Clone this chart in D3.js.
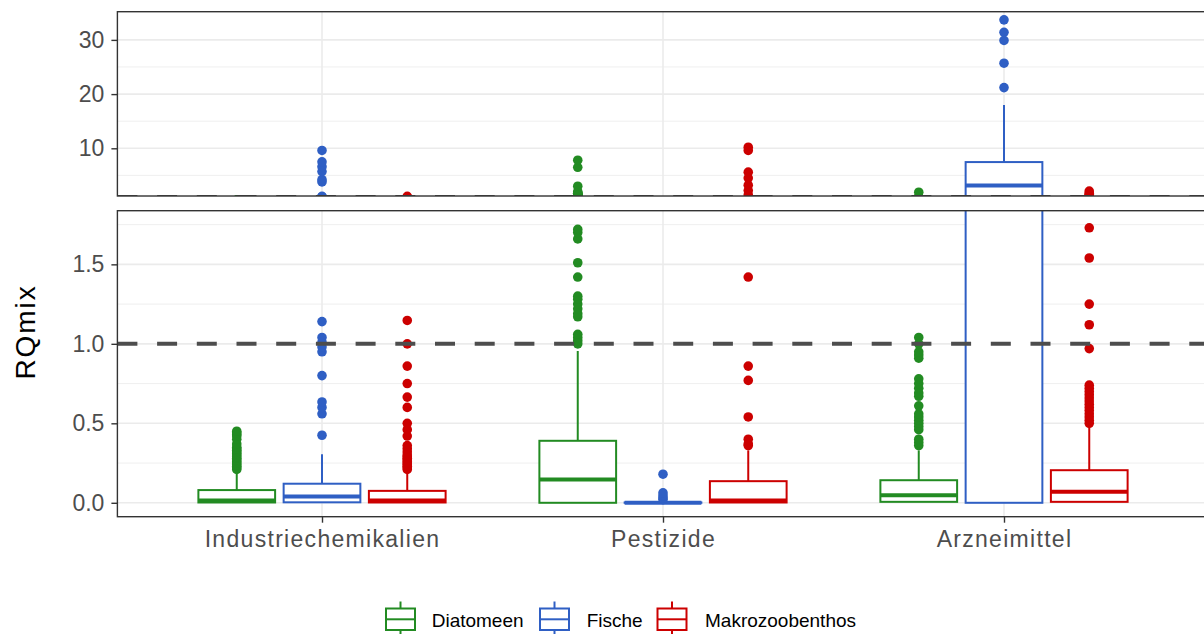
<!DOCTYPE html>
<html>
<head>
<meta charset="utf-8">
<script src="https://cdn.jsdelivr.net/npm/d3@7"></script>
<style>
  html, body { margin: 0; padding: 0; background: #ffffff; }
  svg { display: block; }
  text { font-family: "Liberation Sans", Arial, sans-serif; }
</style>
</head>
<body>
<svg id="chart" width="1204" height="634"></svg>
<script>
// ---------------- data ----------------
const categories = ["Industriechemikalien", "Pestizide", "Arzneimittel"];
const seriesNames = ["Diatomeen", "Fische", "Makrozoobenthos"];
const seriesColors = ["#228B22", "#2F5FC4", "#CC0000"];

// box statistics per category: [whiskerLow, q1, median, q3, whiskerHigh]
const diatomeenStats = [[0, 0.002, 0.015, 0.08, 0.19], [0, 0, 0.147, 0.39, 0.955], [0.006, 0.006, 0.048, 0.142, 0.33]];
const fischeStats = [[0, 0.003, 0.04, 0.12, 0.305], [0, 0, 0, 0.002, 0.01], [0, 0, 3.15, 7.46, 18.0]];
const makroStats = [[0, 0.002, 0.015, 0.075, 0.195], [0, 0.002, 0.015, 0.136, 0.33], [0.006, 0.006, 0.07, 0.205, 0.48]];

// outliers per category
const diatomeenOutliers = [
  [0.21, 0.22, 0.23, 0.24, 0.25, 0.26, 0.27, 0.28, 0.29, 0.30, 0.31, 0.32, 0.33, 0.34, 0.35, 0.37, 0.40, 0.42, 0.43, 0.44, 0.45],
  [1.0, 1.02, 1.04, 1.06, 1.17, 1.19, 1.22, 1.25, 1.28, 1.30, 1.42, 1.51, 1.66, 1.70, 1.72, 2.0, 3.0, 6.5, 7.8],
  [0.36, 0.38, 0.40, 0.46, 0.48, 0.50, 0.52, 0.54, 0.56, 0.61, 0.67, 0.69, 0.72, 0.75, 0.78, 0.91, 0.93, 0.95, 1.0, 1.04, 1.9]
];
const fischeOutliers = [
  [0.425, 0.56, 0.60, 0.634, 0.80, 0.95, 0.98, 1.01, 1.04, 1.14, 3.8, 4.2, 5.7, 6.6, 7.5, 9.6],
  [0.02, 0.03, 0.045, 0.063, 0.18],
  [21.2, 25.7, 29.9, 31.4, 33.7]
];
const makroOutliers = [
  [0.21, 0.22, 0.23, 0.24, 0.25, 0.26, 0.27, 0.28, 0.29, 0.30, 0.32, 0.34, 0.36, 0.42, 0.46, 0.50, 0.60, 0.665, 0.75, 0.86, 1.0, 1.147],
  [0.36, 0.37, 0.40, 0.54, 0.77, 0.86, 1.42, 2.2, 3.2, 4.5, 5.6, 9.6, 10.2],
  [0.50, 0.52, 0.54, 0.56, 0.58, 0.60, 0.62, 0.64, 0.66, 0.68, 0.70, 0.72, 0.74, 0.97, 1.12, 1.25, 1.54, 1.73, 2.1]
];

const topMajorTicks = [10, 20, 30];
const topMinorTicks = [5, 15, 25];
const bottomMajorTicks = [0, 0.5, 1.0, 1.5];
const bottomMinorTicks = [0.25, 0.75, 1.25, 1.75];
const thresholdValue = 1.0;
const yTitle = "RQmix";

const statsBySeries = [diatomeenStats, fischeStats, makroStats];
const outliersBySeries = [diatomeenOutliers, fischeOutliers, makroOutliers];

// ---------------- layout ----------------
const svg = d3.select("#chart");
const plotLeft = 117.4, plotRight = 1208.6;
const topPanel = { y0: 11.7, y1: 196 };
const botPanel = { y0: 210.7, y1: 516.7 };

const x = d3.scalePoint().domain(categories).range([plotLeft, plotRight]).padding(0.6);
const step = x.step();
const boxW = 0.225 * step;
const offset = i => (i - 1) * 0.25 * step;

const yTop = d3.scaleLinear().domain([1.2, 35.2]).range([topPanel.y1, topPanel.y0]);
const yBot = d3.scaleLinear().domain([-0.0875, 1.8375]).range([botPanel.y1, botPanel.y0]);

const defs = svg.append("defs");
function makeClip(id, p) {
  defs.append("clipPath").attr("id", id).append("rect")
    .attr("x", plotLeft).attr("y", p.y0).attr("width", plotRight - plotLeft).attr("height", p.y1 - p.y0);
}
makeClip("clipTop", topPanel);
makeClip("clipBot", botPanel);

function drawPanel(panel, y, majors, minors, clipId, showXAxis) {
  const g = svg.append("g");
  const inner = g.append("g").attr("clip-path", `url(#${clipId})`);
  // background
  inner.append("rect").attr("x", plotLeft).attr("y", panel.y0)
    .attr("width", plotRight - plotLeft).attr("height", panel.y1 - panel.y0).attr("fill", "#ffffff");
  // minor grid
  inner.selectAll(".minor").data(minors).join("line")
    .attr("x1", plotLeft).attr("x2", plotRight)
    .attr("y1", d => y(d)).attr("y2", d => y(d))
    .attr("stroke", "#EDEDED").attr("stroke-width", 0.9);
  // major grid
  inner.selectAll(".major").data(majors).join("line")
    .attr("x1", plotLeft).attr("x2", plotRight)
    .attr("y1", d => y(d)).attr("y2", d => y(d))
    .attr("stroke", "#EBEBEB").attr("stroke-width", 1.6);
  inner.selectAll(".vgrid").data(categories).join("line")
    .attr("x1", d => x(d)).attr("x2", d => x(d))
    .attr("y1", panel.y0).attr("y2", panel.y1)
    .attr("stroke", "#EBEBEB").attr("stroke-width", 1.6);

  // boxes
  seriesNames.forEach((s, si) => {
    const col = seriesColors[si];
    categories.forEach((c, ci) => {
      const [lo, q1, med, q3, hi] = statsBySeries[si][ci];
      const cx = x(c) + offset(si);
      const bg = inner.append("g");
      bg.append("line").attr("x1", cx).attr("x2", cx).attr("y1", y(q3)).attr("y2", y(hi))
        .attr("stroke", col).attr("stroke-width", 2);
      bg.append("line").attr("x1", cx).attr("x2", cx).attr("y1", y(q1)).attr("y2", y(lo))
        .attr("stroke", col).attr("stroke-width", 2);
      bg.append("rect").attr("x", cx - boxW / 2).attr("width", boxW)
        .attr("y", y(q3)).attr("height", Math.max(0.01, y(q1) - y(q3)))
        .attr("fill", "#ffffff").attr("stroke", col).attr("stroke-width", 2);
      bg.append("line").attr("x1", cx - boxW / 2).attr("x2", cx + boxW / 2)
        .attr("y1", y(med)).attr("y2", y(med))
        .attr("stroke", col).attr("stroke-width", 4);
    });
  });
  // outliers
  seriesNames.forEach((s, si) => {
    const col = seriesColors[si];
    categories.forEach((c, ci) => {
      const cx = x(c) + offset(si);
      inner.selectAll(null).data(outliersBySeries[si][ci]).join("circle")
        .attr("cx", cx).attr("cy", d => y(d)).attr("r", 4.8).attr("fill", col);
    });
  });
  // threshold line
  inner.append("line").attr("x1", plotLeft).attr("x2", plotRight)
    .attr("y1", y(thresholdValue)).attr("y2", y(thresholdValue))
    .attr("stroke", "#4D4D4D").attr("stroke-width", 4).attr("stroke-dasharray", "20,19.7");

  // border
  g.append("rect").attr("x", plotLeft).attr("y", panel.y0)
    .attr("width", plotRight - plotLeft).attr("height", panel.y1 - panel.y0)
    .attr("fill", "none").attr("stroke", "#333333").attr("stroke-width", 1.4);

  // y axis
  const yAxis = d3.axisLeft(y).tickValues(majors).tickSize(6).tickPadding(7)
    .tickFormat(d => (y === yBot ? d3.format(".1f")(d) : d3.format("d")(d)));
  const ag = g.append("g").attr("transform", `translate(${plotLeft},0)`).call(yAxis);
  ag.select(".domain").remove();
  ag.selectAll(".tick line").attr("stroke", "#333333").attr("stroke-width", 1.4);
  ag.selectAll(".tick text").attr("fill", "#4D4D4D").attr("font-size", 23)
    .style("font-family", "'Liberation Sans', Arial, sans-serif");

  if (showXAxis) {
    const xAxis = d3.axisBottom(x).tickSize(6).tickPadding(8);
    const xg = g.append("g").attr("transform", `translate(0,${panel.y1})`).call(xAxis);
    xg.select(".domain").remove();
    xg.selectAll(".tick line").attr("stroke", "#333333").attr("stroke-width", 1.4);
    xg.selectAll(".tick text").attr("fill", "#4D4D4D").attr("font-size", 23)
      .attr("dy", "0.71em").attr("y", 14)
      .style("letter-spacing", "1.3px")
      .style("font-family", "'Liberation Sans', Arial, sans-serif");
  }
}

drawPanel(topPanel, yTop, topMajorTicks, topMinorTicks, "clipTop", false);
drawPanel(botPanel, yBot, bottomMajorTicks, bottomMinorTicks, "clipBot", true);

// y title
svg.append("text")
  .attr("transform", "translate(35,332) rotate(-90)")
  .attr("text-anchor", "middle")
  .attr("font-size", 28)
  .style("letter-spacing", "1.9px")
  .attr("fill", "#000000")
  .text(yTitle);

// legend
const legendKeyX = [386, 540, 657.5];
const legendTextX = [431.7, 586.7, 705];
const keyW = 29, keyTop = 608.5, keyBot = 630, keyMid = 619.3;
const lg = svg.append("g");
seriesNames.forEach((s, i) => {
  const col = seriesColors[i];
  const kx = legendKeyX[i];
  const cx = kx + keyW / 2;
  lg.append("line").attr("x1", cx).attr("x2", cx).attr("y1", 601.5).attr("y2", keyTop)
    .attr("stroke", col).attr("stroke-width", 2);
  lg.append("line").attr("x1", cx).attr("x2", cx).attr("y1", keyBot).attr("y2", 637)
    .attr("stroke", col).attr("stroke-width", 2);
  lg.append("rect").attr("x", kx).attr("y", keyTop).attr("width", keyW).attr("height", keyBot - keyTop)
    .attr("fill", "#ffffff").attr("stroke", col).attr("stroke-width", 2);
  lg.append("line").attr("x1", kx).attr("x2", kx + keyW).attr("y1", keyMid).attr("y2", keyMid)
    .attr("stroke", col).attr("stroke-width", 2);
  lg.append("text").attr("x", legendTextX[i]).attr("y", 626.5)
    .attr("font-size", 19).attr("fill", "#000000").text(s);
});
</script>
</body>
</html>
